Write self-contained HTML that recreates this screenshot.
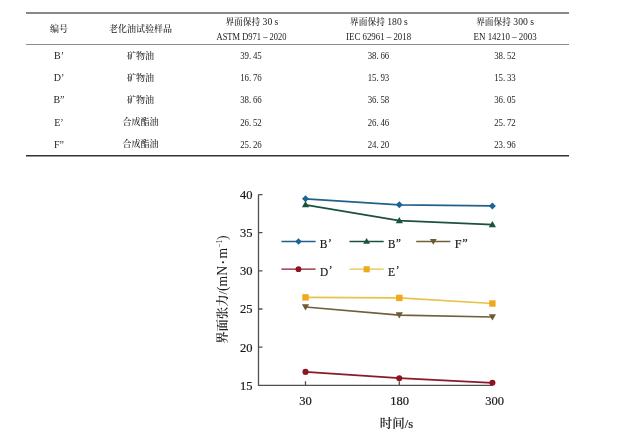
<!DOCTYPE html>
<html lang="zh">
<head>
<meta charset="utf-8">
<title>界面张力</title>
<style>
html,body{margin:0;padding:0;background:#fff;}
body{width:632px;height:439px;overflow:hidden;position:relative;}
svg{position:absolute;left:0;top:0;display:block;filter:blur(0.3px);}
.tc{font-family:"Liberation Serif","Noto Serif CJK SC",serif;fill:#222;font-size:9px;font-weight:500;}
.tn{font-family:"Liberation Serif","Noto Serif CJK SC",serif;fill:#222;font-size:10px;}
.ax{font-family:"Liberation Serif","Noto Serif CJK SC",serif;fill:#1a1a1a;font-size:12.5px;stroke:#1a1a1a;stroke-width:0.2px;}
.lg{font-family:"Liberation Serif",serif;fill:#111;font-size:13px;stroke:#111;stroke-width:0.15px;}
.q{font-size:13px;}
.cj{font-weight:600;stroke:none;}
</style>
</head>
<body>
<svg width="632" height="439" viewBox="0 0 632 439">
  <rect x="26" y="12" width="543" height="2" fill="#888"/>
  <rect x="26" y="44" width="543" height="1" fill="#8c8c8c"/>
  <rect x="26" y="155" width="543" height="1.5" fill="#333"/>
  <g class="tc" text-anchor="middle">
    <text x="59" y="32">编号</text>
    <text x="140.5" y="32">老化油试验样品</text>
    <text x="251.9" y="24.8" textLength="53" lengthAdjust="spacingAndGlyphs">界面保持<tspan font-size="10" font-weight="400"> 30 s</tspan></text>
    <text x="379" y="24.8" textLength="57.8" lengthAdjust="spacingAndGlyphs">界面保持<tspan font-size="10" font-weight="400"> 180 s</tspan></text>
    <text x="505.1" y="24.8" textLength="57.8" lengthAdjust="spacingAndGlyphs">界面保持<tspan font-size="10" font-weight="400"> 300 s</tspan></text>
  </g>
  <g class="tn" text-anchor="middle">
    <text x="251.5" y="39.5" textLength="70" lengthAdjust="spacingAndGlyphs">ASTM D971 – 2020</text>
    <text x="378.6" y="39.5" textLength="65" lengthAdjust="spacingAndGlyphs">IEC 62961 – 2018</text>
    <text x="505.1" y="39.5" textLength="63" lengthAdjust="spacingAndGlyphs">EN 14210 – 2003</text>
  </g>
  <g class="tn" text-anchor="middle">
    <text x="59" y="59">B’</text>
    <text x="59" y="81">D’</text>
    <text x="59" y="103">B”</text>
    <text x="59" y="125.8">E’</text>
    <text x="59" y="147.6">F”</text>
    <text x="251" y="59" textLength="21.6" lengthAdjust="spacingAndGlyphs">39.<tspan dx="1.9">45</tspan></text>
    <text x="251" y="81" textLength="21.6" lengthAdjust="spacingAndGlyphs">16.<tspan dx="1.9">76</tspan></text>
    <text x="251" y="103" textLength="21.6" lengthAdjust="spacingAndGlyphs">38.<tspan dx="1.9">66</tspan></text>
    <text x="251" y="125.8" textLength="21.6" lengthAdjust="spacingAndGlyphs">26.<tspan dx="1.9">52</tspan></text>
    <text x="251" y="147.6" textLength="21.6" lengthAdjust="spacingAndGlyphs">25.<tspan dx="1.9">26</tspan></text>
    <text x="378.5" y="59" textLength="21.6" lengthAdjust="spacingAndGlyphs">38.<tspan dx="1.9">66</tspan></text>
    <text x="378.5" y="81" textLength="21.6" lengthAdjust="spacingAndGlyphs">15.<tspan dx="1.9">93</tspan></text>
    <text x="378.5" y="103" textLength="21.6" lengthAdjust="spacingAndGlyphs">36.<tspan dx="1.9">58</tspan></text>
    <text x="378.5" y="125.8" textLength="21.6" lengthAdjust="spacingAndGlyphs">26.<tspan dx="1.9">46</tspan></text>
    <text x="378.5" y="147.6" textLength="21.6" lengthAdjust="spacingAndGlyphs">24.<tspan dx="1.9">20</tspan></text>
    <text x="505" y="59" textLength="21.6" lengthAdjust="spacingAndGlyphs">38.<tspan dx="1.9">52</tspan></text>
    <text x="505" y="81" textLength="21.6" lengthAdjust="spacingAndGlyphs">15.<tspan dx="1.9">33</tspan></text>
    <text x="505" y="103" textLength="21.6" lengthAdjust="spacingAndGlyphs">36.<tspan dx="1.9">05</tspan></text>
    <text x="505" y="125.8" textLength="21.6" lengthAdjust="spacingAndGlyphs">25.<tspan dx="1.9">72</tspan></text>
    <text x="505" y="147.6" textLength="21.6" lengthAdjust="spacingAndGlyphs">23.<tspan dx="1.9">96</tspan></text>
  </g>
  <g class="tc" text-anchor="middle">
    <text x="140.5" y="58.5">矿物油</text>
    <text x="140.5" y="80.5">矿物油</text>
    <text x="140.5" y="102.5">矿物油</text>
    <text x="140.5" y="125.4">合成酯油</text>
    <text x="140.5" y="147">合成酯油</text>
  </g>
  <g stroke="#505050" stroke-width="1.3" fill="none">
    <path d="M258.5 194.6 V385.4 H492.5"/>
    <path d="M258.5 194.6 h4 M258.5 232.7 h4 M258.5 270.9 h4 M258.5 309.0 h4 M258.5 347.2 h4"/>
    <path d="M305.5 385.3 v-4 M399.3 385.3 v-4 M492.4 385.3 v-4"/>
  </g>
  <g class="ax" text-anchor="end"><text x="252.5" y="198.9">40</text><text x="252.5" y="237.0">35</text><text x="252.5" y="275.2">30</text><text x="252.5" y="313.3">25</text><text x="252.5" y="351.5">20</text><text x="252.5" y="389.6">15</text></g>
  <g class="ax" text-anchor="middle">
    <text x="305.5" y="405">30</text>
    <text x="399.5" y="405">180</text>
    <text x="494.5" y="405">300</text>
    <text x="396.4" y="427.5"><tspan class="cj">时间</tspan>/s</text>
  </g>
  <text class="ax" font-size="13" stroke="none" style="stroke:none" text-anchor="middle" transform="translate(226.5 289.6) rotate(-90)" textLength="108.5" lengthAdjust="spacingAndGlyphs"><tspan class="cj">界面张力</tspan>/<tspan font-size="13.8">(mN<tspan font-size="9" dy="-0.5"> • </tspan><tspan dy="0.5">m</tspan></tspan><tspan font-size="7.5" dy="-4.5">−1</tspan><tspan font-size="13.8" dy="4.5">)</tspan></text>
  <g fill="none" stroke-width="1.7">
    <polyline stroke="#22628a" points="305.5,198.8 399.3,204.8 492.4,205.9"/><polyline stroke="#1c5040" points="305.5,204.8 399.3,220.7 492.4,224.7"/><polyline stroke="#6e6038" points="305.5,307.0 399.3,315.1 492.4,317.0"/><polyline stroke="#e8c24a" points="305.5,297.4 399.3,297.9 492.4,303.5"/><polyline stroke="#8a1a2a" points="305.5,371.9 399.3,378.2 492.4,382.8"/>
  </g>
  <path fill="#1d6496" d="M305.5 195.3 L309.0 198.8 L305.5 202.3 L302.0 198.8Z"/><path fill="#1d6496" d="M399.3 201.3 L402.8 204.8 L399.3 208.3 L395.8 204.8Z"/><path fill="#1d6496" d="M492.4 202.4 L495.9 205.9 L492.4 209.4 L488.9 205.9Z"/><path fill="#175538" d="M305.5 201.1 L309.1 207.3 L301.9 207.3Z"/><path fill="#175538" d="M399.3 217.0 L402.9 223.2 L395.7 223.2Z"/><path fill="#175538" d="M492.4 221.0 L496.0 227.2 L488.8 227.2Z"/><path fill="#6e5a30" d="M301.9 304.2 L309.1 304.2 L305.5 310.4Z"/><path fill="#6e5a30" d="M395.7 312.3 L402.9 312.3 L399.3 318.5Z"/><path fill="#6e5a30" d="M488.8 314.2 L496.0 314.2 L492.4 320.4Z"/><rect fill="#eeaa18" x="302.3" y="294.2" width="6.4" height="6.4"/><rect fill="#eeaa18" x="396.1" y="294.7" width="6.4" height="6.4"/><rect fill="#eeaa18" x="489.2" y="300.3" width="6.4" height="6.4"/><circle fill="#901420" cx="305.5" cy="371.9" r="3.05"/><circle fill="#901420" cx="399.3" cy="378.2" r="3.05"/><circle fill="#901420" cx="492.4" cy="382.8" r="3.05"/>
  <line x1="281.4" y1="241.5" x2="315.6" y2="241.5" stroke="#22628a" stroke-width="1.3"/><path fill="#1d6496" d="M298.5 238.2 L301.8 241.5 L298.5 244.8 L295.2 241.5Z"/><line x1="349.5" y1="241.5" x2="383.7" y2="241.5" stroke="#1c5040" stroke-width="1.3"/><path fill="#175538" d="M366.6 238.0 L370.0 243.8 L363.2 243.8Z"/><line x1="416.2" y1="241.5" x2="450.4" y2="241.5" stroke="#6e6038" stroke-width="1.3"/><path fill="#6e5a30" d="M429.9 238.9 L436.7 238.9 L433.3 244.7Z"/><line x1="281.4" y1="269.2" x2="315.6" y2="269.2" stroke="#8a1a2a" stroke-width="1.3"/><circle fill="#901420" cx="298.5" cy="269.2" r="2.90"/><line x1="349.5" y1="269.2" x2="383.7" y2="269.2" stroke="#e8c24a" stroke-width="1.3"/><rect fill="#eeaa18" x="363.6" y="266.2" width="6.1" height="6.1"/>
  <g class="lg"><text x="319.8" y="248.3" textLength="12" lengthAdjust="spacingAndGlyphs">B<tspan class="q" dx="0.6" dy="-1.6">’</tspan></text><text x="388.0" y="248.3" textLength="12.8" lengthAdjust="spacingAndGlyphs">B<tspan class="q" dx="0.6" dy="-1.6">”</tspan></text><text x="454.8" y="248.3" textLength="12.8" lengthAdjust="spacingAndGlyphs">F<tspan class="q" dx="0.6" dy="-1.6">”</tspan></text><text x="320.0" y="276.0" textLength="12.5" lengthAdjust="spacingAndGlyphs">D<tspan class="q" dx="0.6" dy="-1.6">’</tspan></text><text x="388.0" y="276.0" textLength="11.5" lengthAdjust="spacingAndGlyphs">E<tspan class="q" dx="0.6" dy="-1.6">’</tspan></text></g>
</svg>
</body>
</html>
